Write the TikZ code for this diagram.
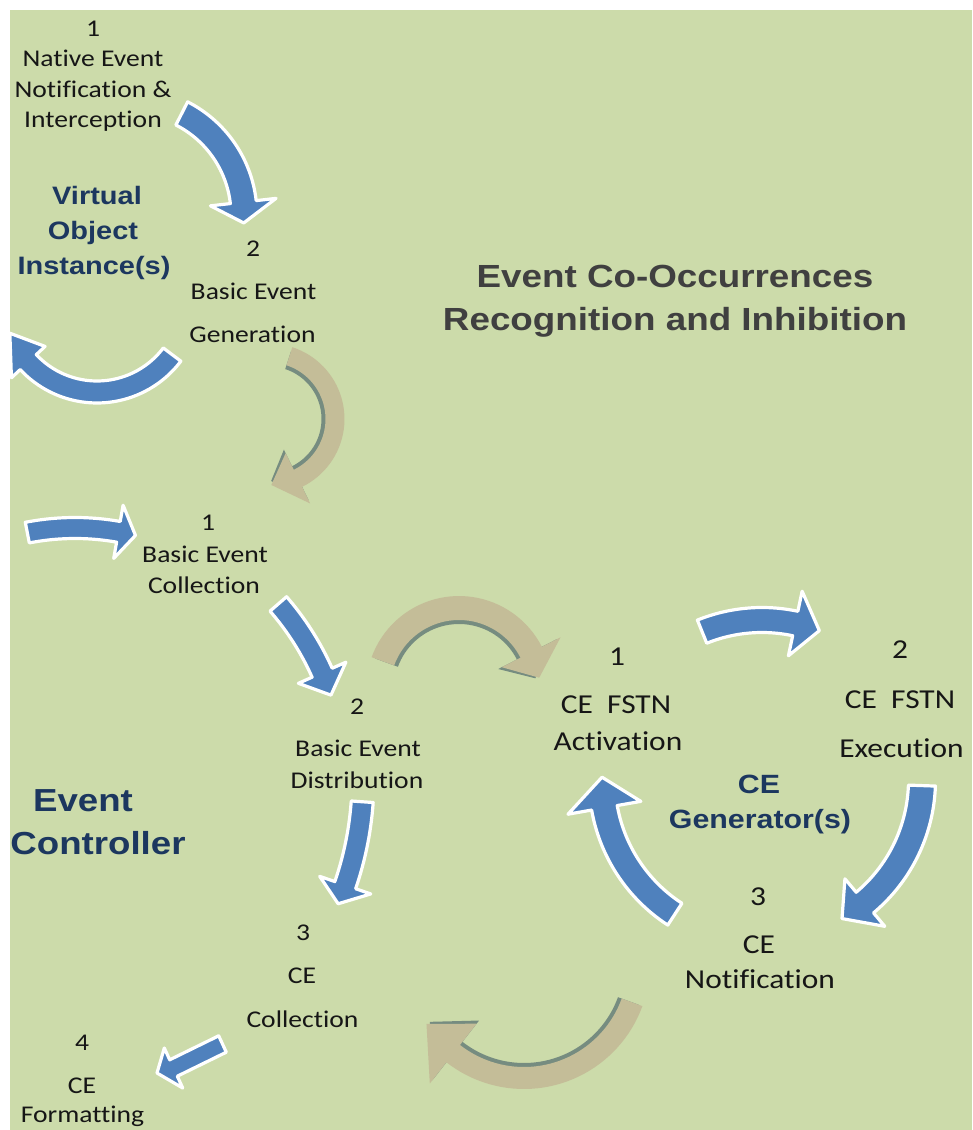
\documentclass[tikz,border=0pt]{standalone}
\usepackage{fontspec}
\setmainfont{Carlito}[FakeStretch=1.15, Ligatures=NoCommon]
\newfontfamily\headfont{Liberation Sans}[FakeStretch=1.15]

\definecolor{bg}{RGB}{204,219,170}
\definecolor{arrowblue}{RGB}{79,129,189}
\definecolor{arrowtan}{RGB}{196,189,152}
\definecolor{tanshade}{RGB}{118,140,128}
\definecolor{navy}{RGB}{28,55,95}
\definecolor{titlegray}{RGB}{64,64,64}
\definecolor{ink}{RGB}{22,22,22}

% Bent block arrow on a circular track.
% #1 style, #2 centre, #3 radius, #4 tail angle, #5 head base angle,
% #6 tip angle, #7 shaft width, #8 head half-width
\newcommand{\bentarrow}[8]{%
  \path[#1, shift={(#2)}]
    plot[domain=#4:#5, samples=40, variable=\t]
      ({((#3)+(#7)/2)*cos(\t)}, {((#3)+(#7)/2)*sin(\t)})
    -- ({((#3)+(#8))*cos(#5)}, {((#3)+(#8))*sin(#5)})
    -- ({(#3)*cos(#6)}, {(#3)*sin(#6)})
    -- ({((#3)-(#8))*cos(#5)}, {((#3)-(#8))*sin(#5)})
    -- plot[domain=#5:#4, samples=40, variable=\t]
      ({((#3)-(#7)/2)*cos(\t)}, {((#3)-(#7)/2)*sin(\t)})
    -- cycle;}

% Tan arrow with its darker inner side
\newcommand{\tanbent}[7]{%
  \bentarrow{tanshadow}{#1}{#2-4}{#3}{#4}{#5}{#6}{#7}
  \bentarrow{tanarrow}{#1}{#2}{#3}{#4}{#5}{#6}{#7}}

\tikzset{
  bluearrow/.style={fill=arrowblue, draw=white, line width=2.4pt, line join=round},
  tanarrow/.style={fill=arrowtan},
  tanshadow/.style={fill=tanshade},
  lbl/.style={anchor=base, inner sep=0pt, text=ink, font=\fontsize{18}{22}\selectfont},
  cel/.style={lbl, font=\fontsize{20.5}{25}\selectfont},
  bigtitle/.style={anchor=base, inner sep=0pt, text=titlegray,
    font=\headfont\bfseries\fontsize{24}{29}\selectfont},
  voititle/.style={anchor=base, inner sep=0pt, text=navy,
    font=\headfont\bfseries\fontsize{18.9}{23}\selectfont},
  ectitle/.style={anchor=base, inner sep=0pt, text=navy,
    font=\headfont\bfseries\fontsize{23.9}{29}\selectfont},
  cgtitle/.style={anchor=base, inner sep=0pt, text=navy,
    font=\headfont\bfseries\fontsize{19.8}{24}\selectfont},
}

\begin{document}
\begin{tikzpicture}[x=0.75pt, y=-0.75pt]
\useasboundingbox (0,0) rectangle (972,1130);
\fill[white] (0,0) rectangle (972,1130);
\fill[bg] (10,10) rectangle (972,1130);

\begin{scope}
\clip (10,10) rectangle (972,1130);

% ---- virtual object instance cycle
\bentarrow{bluearrow}{130,215}{114}{-63}{-6.5}{4}{26}{33}
\bentarrow{bluearrow}{97,298}{94}{37}{137}{158}{22}{23}
\tanbent{269,419}{66}{-72}{64}{88}{19}{28}

% ---- event controller
\bentarrow{bluearrow}{75,778}{250}{-101}{-80}{-76}{21}{27}
\bentarrow{bluearrow}{70,785}{276}{-41}{-24}{-19}{22}{26}
\tanbent{459,689}{81}{-160}{-27}{-8}{24}{33}
\bentarrow{bluearrow}{37,779}{326}{4}{19}{22.5}{22}{27}
\path[bluearrow] (218.7,1035.8) -- (169.7,1059.8) -- (164.3,1048) -- (157,1073)
  -- (182.7,1088) -- (177.3,1076.2) -- (226.3,1052.2) -- cycle;
\tanbent{524,963}{115}{20}{128}{148}{22}{38}

% ---- CE generator cycle
\bentarrow{bluearrow}{762,780}{160}{-112}{-78}{-69}{25}{33}
\bentarrow{bluearrow}{762,780}{160}{2}{50}{60}{27}{31}
\bentarrow{bluearrow}{762,780}{160}{123}{170}{181}{26}{37}
\end{scope}

% ---- titles
\node[bigtitle] (t1) at (675,287) {Event Co-Occurrences};
\node[bigtitle] (t2) at (675,330) {Recognition and Inhibition};
\node[voititle] (v1) at (97,205) {Virtual};
\node[voititle] (v2) at (93,240) {Object};
\node[voititle] (v3) at (94,275) {Instance(s)};
\node[ectitle] (e1) at (83,811) {Event};
\node[ectitle] (e2) at (98,854) {Controller};
\node[cgtitle] (g1) at (759,793) {CE};
\node[cgtitle] (g2) at (760,828) {Generator(s)};

% ---- step labels
\node[lbl] (ne0) at (93,37) {1};
\node[lbl] (ne1) at (93,67) {Native Event};
\node[lbl] (ne2) at (93,98) {Notification \&};
\node[lbl] (ne3) at (93,128) {Interception};

\node[lbl] (bg0) at (253,257) {2};
\node[lbl] (bg1) at (253.5,300) {Basic Event};
\node[lbl] (bg2) at (252.5,342) {Generation};

\node[lbl] (bc0) at (208,530) {1};
\node[lbl] (bc1) at (205,562) {Basic Event};
\node[lbl] (bc2) at (204,593) {Collection};

\node[lbl] (bd0) at (357,714) {2};
\node[lbl] (bd1) at (358,756) {Basic Event};
\node[lbl] (bd2) at (357,788) {Distribution};

\node[lbl] (cc0) at (303,940) {3};
\node[lbl] (cc1) at (302,983) {CE};
\node[lbl] (cc2) at (302.5,1027) {Collection};

\node[lbl] (cf0) at (82,1050) {4};
\node[lbl] (cf1) at (82,1093) {CE};
\node[lbl] (cf2) at (82.5,1122) {Formatting};

\node[cel] (fa0) at (617,665) {1};
\node[cel] (fa1) at (616,713) {CE~~FSTN};
\node[cel] (fa2) at (618,750) {Activation};

\node[cel] (fx0) at (900,658) {2};
\node[cel] (fx1) at (900,708) {CE~~FSTN};
\node[cel] (fx2) at (901.5,757) {Execution};

\node[cel] (cn0) at (758,905) {3};
\node[cel] (cn1) at (759,953) {CE};
\node[cel] (cn2) at (760,988) {Notification};
\end{tikzpicture}
\end{document}
